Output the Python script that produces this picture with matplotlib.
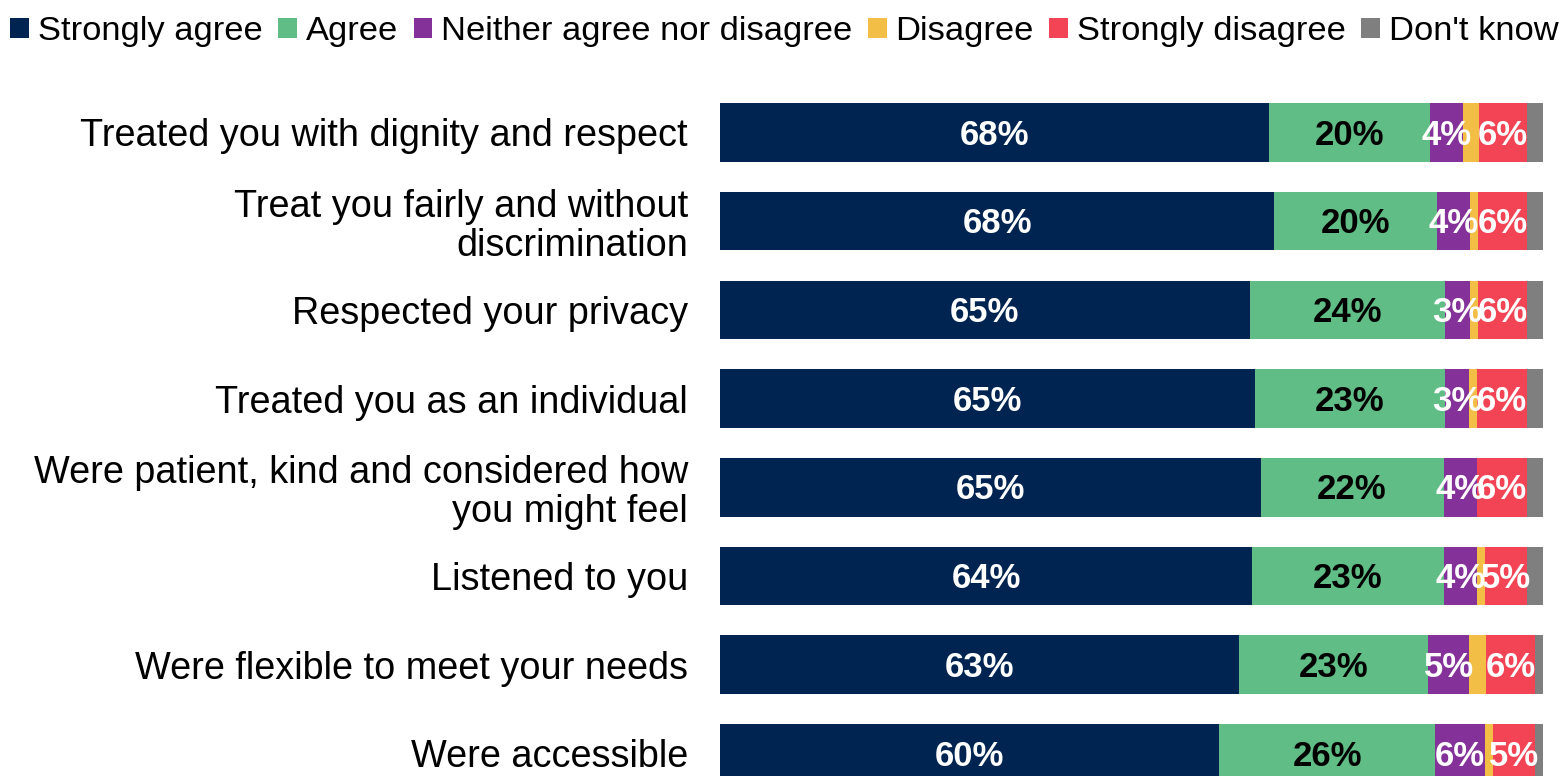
import matplotlib.pyplot as plt
from matplotlib.patches import Patch

plt.rcParams['font.family'] = ['Liberation Sans', 'DejaVu Sans']

statements = [
    'Treated you with dignity and respect',
    'Treat you fairly and without\ndiscrimination',
    'Respected your privacy',
    'Treated you as an individual',
    'Were patient, kind and considered how\nyou might feel',
    'Listened to you',
    'Were flexible to meet your needs',
    'Were accessible',
]
responses = ['Strongly agree', 'Agree', 'Neither agree nor disagree',
             'Disagree', 'Strongly disagree', "Don't know"]

# percentages per statement (rounded, as reported)
strongly_agree = [68, 68, 65, 65, 65, 64, 63, 60]
agree = [20, 20, 24, 23, 22, 23, 23, 26]
neither = [4, 4, 3, 3, 4, 4, 5, 6]
disagree = [2, 1, 1, 1, 0, 1, 2, 1]
strongly_disagree = [6, 6, 6, 6, 6, 5, 6, 5]
dont_know = [2, 2, 2, 2, 2, 2, 1, 1]

series = [strongly_agree, agree, neither, disagree, strongly_disagree, dont_know]
colors = ['#002451', '#5FBD85', '#84319A', '#F2BE45', '#F24455', '#7F7F7F']
label_colors = ['white', 'black', 'white', None, 'white', None]

fig = plt.figure(figsize=(15.61, 7.76), dpi=100)
ax = fig.add_axes([720 / 1561, 0, 823.3 / 1561, 687.85 / 776])

# each bar is scaled to 100% of its row total
totals = [sum(s[i] for s in series) for i in range(len(statements))]
left = [0.0] * len(statements)
for vals, col, lcol in zip(series, colors, label_colors):
    widths = [v / t * 100 for v, t in zip(vals, totals)]
    ax.barh(range(len(statements)), widths, left=left, height=0.66,
            color=col, edgecolor='none')
    if lcol is not None:
        for i, (v, w) in enumerate(zip(vals, widths)):
            if v > 0:
                ax.text(left[i] + w / 2, i + 0.03, f'{v}%', ha='center', va='center',
                        color=lcol, fontsize=25, fontweight='bold')
    left = [l + w for l, w in zip(left, widths)]

ax.set_xlim(0, 100)
ax.set_ylim(7.255, -0.5)
ax.set_yticks(range(len(statements)))
ax.set_yticklabels(statements, fontsize=27.3, linespacing=1.1)
ax.tick_params(axis='y', length=0, pad=23)
ax.set_xticks([])
for sp in ax.spines.values():
    sp.set_visible(False)

handles = [Patch(facecolor=c, edgecolor='none') for c in colors]
fig.legend(handles, responses, loc='upper center', bbox_to_anchor=(0.5025, 1.019),
           ncol=6, frameon=False, fontsize=24.8, handlelength=0.55,
           handleheight=0.55, handletextpad=0.25, columnspacing=0.45)

fig.savefig('out.png', dpi=100)
